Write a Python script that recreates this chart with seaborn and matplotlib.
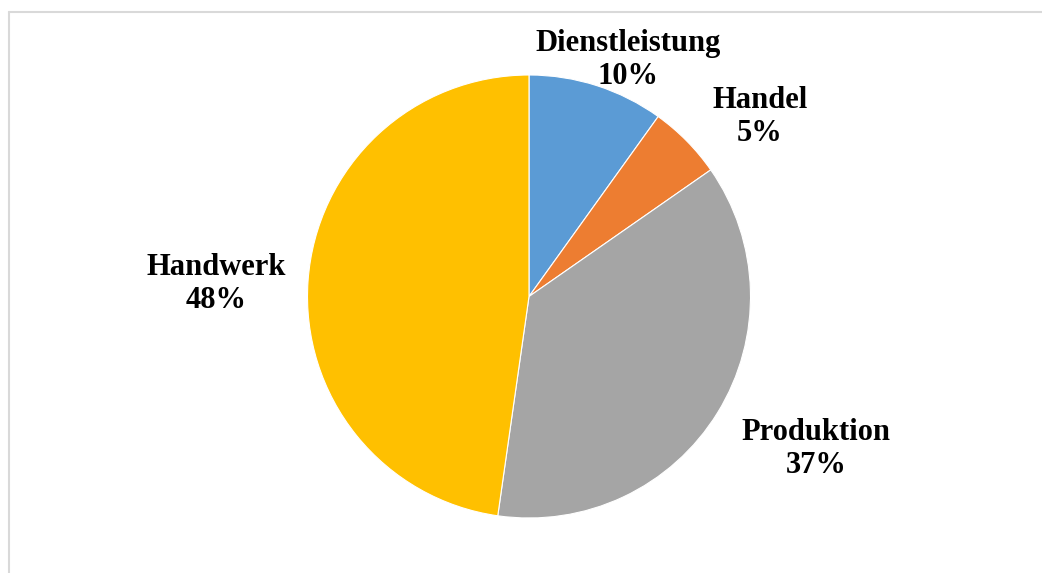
import matplotlib
matplotlib.use("Agg")
import matplotlib.pyplot as plt
from matplotlib.lines import Line2D
import seaborn as sns

# Data (counts; shares 10% / 5% / 37% / 48%)
categories = ["Dienstleistung", "Handel", "Produktion", "Handwerk"]
counts = [11, 6, 41, 53]
colors = ["#5B9BD5", "#ED7D31", "#A5A5A5", "#FFC000"]

sns.set_theme(style="white")
plt.rcParams["font.family"] = ["Liberation Serif", "DejaVu Serif"]

W, H, DPI = 1042, 573, 100
fig = plt.figure(figsize=(W / DPI, H / DPI), dpi=DPI)
fig.patch.set_facecolor("white")

cx, cy, r = 529.0, 296.5, 221.5
ax = fig.add_axes([(cx - r) / W, (H - cy - r) / H, 2 * r / W, 2 * r / H])

palette = sns.color_palette(colors)
ax.pie(counts, colors=palette, startangle=90, counterclock=False, radius=1,
       wedgeprops=dict(edgecolor="white", linewidth=0.8))
ax.set_xlim(-1, 1)
ax.set_ylim(-1, 1)
ax.set_aspect("equal")
ax.axis("off")

total = sum(counts)
label_px = {
    "Dienstleistung": (628, 60),
    "Handel": (760, 117),
    "Produktion": (816, 449),
    "Handwerk": (216, 284),
}
for cat, val in zip(categories, counts):
    px, py = label_px[cat]
    x = (px - cx) / r
    y = (cy - py) / r
    pct = round(100 * val / total)
    ax.text(x, y, f"{cat}\n{pct}%", ha="center", va="center",
            multialignment="center", fontsize=22, fontweight="bold",
            color="black", clip_on=False, linespacing=1.2)

# Chart area frame (light grey top and left edges)
line_col = "#d9d9d9"
fig.add_artist(Line2D([8.5 / W, 1.0], [1 - 12 / H, 1 - 12 / H],
                      transform=fig.transFigure, color=line_col, linewidth=1.5))
fig.add_artist(Line2D([8.5 / W, 8.5 / W], [1 - 12 / H, 0.0],
                      transform=fig.transFigure, color=line_col, linewidth=1.5))

fig.savefig("out.png", dpi=DPI, facecolor="white")
